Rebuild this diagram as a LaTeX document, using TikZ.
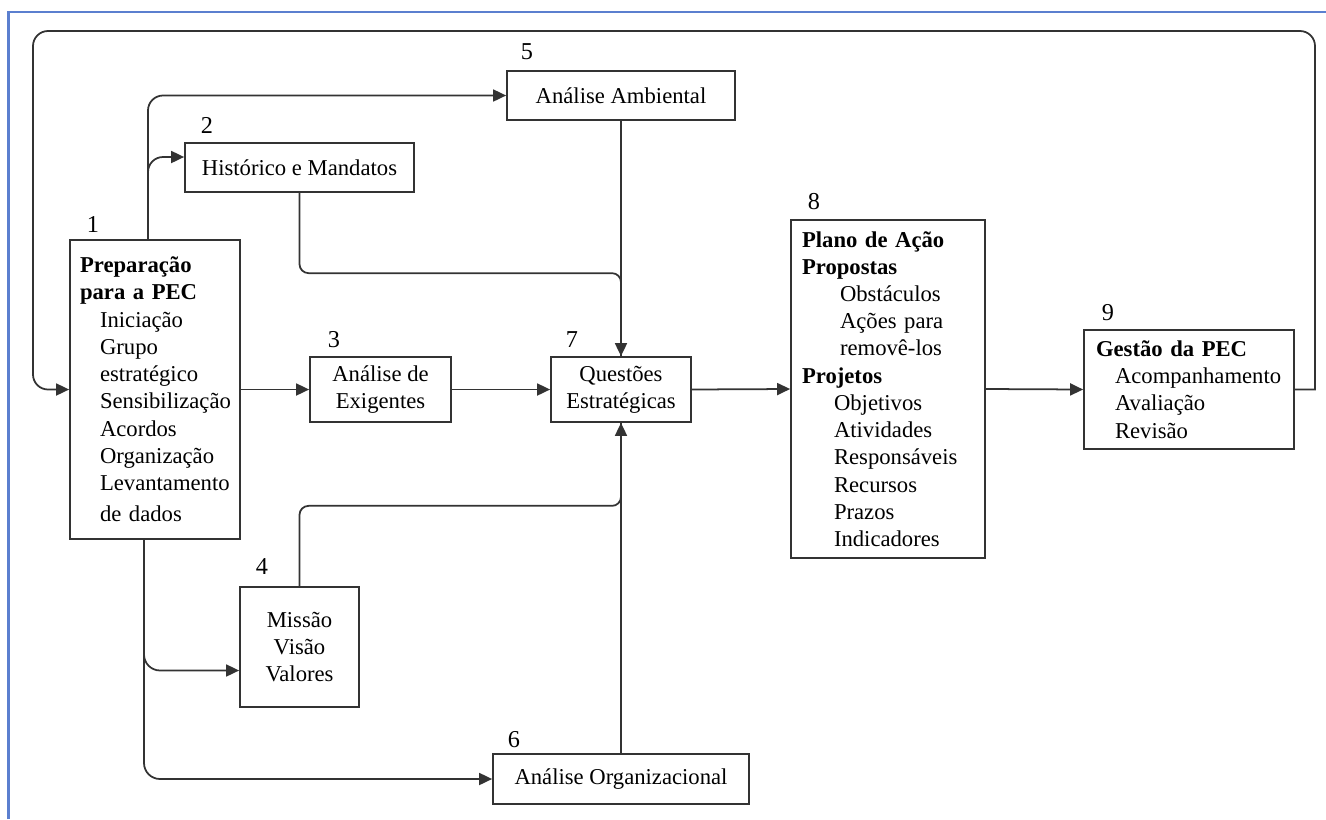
\documentclass[tikz,border=0pt]{standalone}
\usepackage{fontspec}
\setmainfont{Liberation Serif}
\usetikzlibrary{arrows.meta}
\definecolor{framebl}{RGB}{91,127,207}
\hyphenpenalty=10000
\exhyphenpenalty=10000
\begin{document}
\begin{tikzpicture}[x=0.02cm,y=-0.02cm,
    font=\fontsize{12.9}{15.5}\selectfont,
    box/.style={draw=black!80,line width=1pt,inner sep=0pt,align=center},
    listbox/.style={box,align=left},
    num/.style={inner sep=0pt,font=\fontsize{13.8}{16}\selectfont},
    wire/.style={draw=black!80,line width=1pt},
    conn/.style={wire,-{Triangle[length=0.26cm,width=0.24cm]}}]
    \useasboundingbox (0,0) rectangle (1326,819);
    \draw[framebl,line width=1.2pt] (8.5,819) -- (8.5,12) -- (1326,12);
    %% boxes
    \node[listbox,text width=3.0cm,inner xsep=0.2cm,minimum height=5.98cm] (prep) at (155,389.5)
        {\textbf{Preparação}\\\textbf{para a PEC}\\
         \hspace*{0.4cm}Iniciação\\\hspace*{0.4cm}Grupo\\\hspace*{0.4cm}estratégico\\
         \hspace*{0.4cm}Sensibilização\\\hspace*{0.4cm}Acordos\\\hspace*{0.4cm}Organização\\
         \hspace*{0.4cm}Levantamento\\[0.08cm]\hspace*{0.4cm}de dados};
    \node[box,minimum width=4.58cm,minimum height=0.98cm] (hist) at (299.5,167.5) {Histórico e Mandatos};
    \node[box,minimum width=2.82cm,minimum height=1.3cm] (exig) at (380.5,389.5) {Análise de\\Exigentes};
    \node[box,minimum width=2.38cm,minimum height=2.4cm] (miss) at (299.5,647) {Missão\\Visão\\Valores};
    \node[box,minimum width=4.56cm,minimum height=0.98cm] (amb) at (621,95.5) {Análise Ambiental};
    \node[box,minimum width=5.12cm,minimum height=1.0cm] (org) at (621,779) {Análise Organizacional};
    \node[box,minimum width=2.8cm,minimum height=1.3cm] (quest) at (621,389.5) {Questões\\Estratégicas};
    \node[listbox,text width=3.44cm,inner xsep=0.22cm,minimum height=6.76cm] (plano) at (888,389)
        {\textbf{Plano de Ação}\\\textbf{Propostas}\\
         \hspace*{0.76cm}Obstáculos\\\hspace*{0.76cm}Ações para\\\hspace*{0.76cm}removê-los\\
         \textbf{Projetos}\\
         \hspace*{0.64cm}Objetivos\\\hspace*{0.64cm}Atividades\\\hspace*{0.64cm}Responsáveis\\
         \hspace*{0.64cm}Recursos\\\hspace*{0.64cm}Prazos\\\hspace*{0.64cm}Indicadores};
    \node[listbox,text width=3.72cm,inner xsep=0.24cm,minimum height=2.38cm] (gest) at (1189,389.5)
        {\textbf{Gestão da PEC}\\\hspace*{0.38cm}Acompanhamento\\
         \hspace*{0.38cm}Avaliação\\\hspace*{0.38cm}Revisão};
    %% numbers
    \node[num] (n1) at (93,224) {1};
    \node[num] (n2) at (207,125) {2};
    \node[num] (n3) at (334,340) {3};
    \node[num] (n4) at (262,567) {4};
    \node[num] (n5) at (527,52) {5};
    \node[num] (n6) at (514,740) {6};
    \node[num] (n7) at (572,340) {7};
    \node[num] (n8) at (814,202) {8};
    \node[num] (n9) at (1108,313) {9};
    %% feedback loop
    \coordinate (loopne) at (1315,31);
    \coordinate (loopnw) at (33,31);
    \draw[conn] (gest.east) -- (gest.east -| loopne) [rounded corners=0.3cm] -- (loopne) -- (loopnw) |- (prep.west);
    %% from preparation
    \draw[conn,rounded corners=0.3cm] ([xshift=-0.14cm]prep.north) |- (amb.west);
    \draw[conn,rounded corners=0.3cm] ([xshift=-0.14cm]prep.north) |- ([yshift=0.21cm]hist.west);
    \draw[conn,rounded corners=0.32cm] ([xshift=-0.22cm]prep.south) |- (org.west);
    \draw[conn,rounded corners=0.32cm] ([xshift=-0.22cm]prep.south) |- ([yshift=-0.47cm]miss.west);
    \draw[conn] (prep.east) -- (exig.west);
    %% into strategic issues
    \draw[wire,rounded corners=0.18cm] (hist.south) |- ([yshift=1.66cm]quest.north) -- (quest.north);
    \draw[conn] (amb.south) -- (quest.north);
    \draw[wire,rounded corners=0.18cm] (miss.north) |- ([yshift=-1.66cm]quest.south) -- (quest.south);
    \draw[conn] (org.north) -- (quest.south);
    \draw[conn] (exig.east) -- (quest.west);
    %% onwards
    \draw[conn] (quest.east) -- (plano.west);
    \draw[conn] (plano.east) -- (gest.west);
\end{tikzpicture}
\end{document}
